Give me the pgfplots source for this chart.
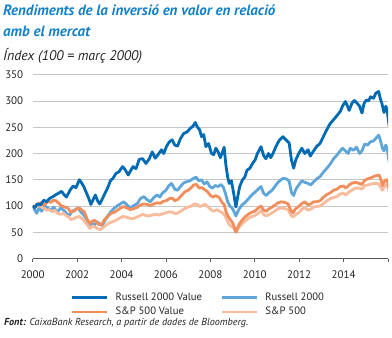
\documentclass[border=0pt]{standalone}
\usepackage{pgfplots}
\pgfplotsset{compat=1.18}
\usepackage{pgfplotstable}
\usepackage{fontspec}
\setmainfont{PT Sans}
\definecolor{rvblue}{RGB}{0,106,180}
\definecolor{rlblue}{RGB}{94,166,218}
\definecolor{svorange}{RGB}{242,142,92}
\definecolor{sporange}{RGB}{248,187,156}
\definecolor{titleblue}{RGB}{20,128,200}
\definecolor{txt}{RGB}{35,35,35}

\pgfplotstableread{
x y
2000.00 100
2000.10 97
2000.20 104
2000.35 102
2000.50 111
2000.62 108
2000.78 115
2000.92 118
2001.02 121
2001.15 124
2001.30 128
2001.42 121
2001.52 117
2001.68 130
2001.82 138
2001.95 135
2002.10 150
2002.20 144
2002.30 137
2002.42 125
2002.52 115
2002.62 103
2002.72 112
2002.82 121
2002.92 110
2003.02 104
2003.12 112
2003.25 124
2003.38 135
2003.50 148
2003.62 153
2003.75 162
2003.88 165
2004.05 175
2004.15 170
2004.30 159
2004.42 168
2004.52 175
2004.65 171
2004.80 189
2004.95 190
2005.10 181
2005.25 190
2005.38 203
2005.52 191
2005.65 198
2005.80 207
2005.90 200
2006.02 213
2006.15 222
2006.28 226
2006.40 216
2006.52 214
2006.65 228
2006.80 238
2006.95 241
2007.10 248
2007.22 252
2007.32 259
2007.42 250
2007.52 245
2007.60 232
2007.70 236
2007.80 213
2007.92 219
2008.05 200
2008.15 198
2008.25 210
2008.35 203
2008.45 192
2008.55 203
2008.62 212
2008.70 178
2008.78 155
2008.85 143
2008.95 148
2009.05 124
2009.15 98
2009.22 115
2009.32 137
2009.45 150
2009.55 155
2009.65 168
2009.78 172
2009.90 181
2010.02 188
2010.12 200
2010.28 213
2010.40 196
2010.50 190
2010.62 200
2010.72 192
2010.82 200
2010.95 213
2011.10 225
2011.27 232
2011.40 226
2011.55 220
2011.65 188
2011.75 172
2011.85 188
2011.98 200
2012.12 210
2012.25 200
2012.40 207
2012.50 195
2012.65 205
2012.80 214
2012.94 219
2013.10 233
2013.24 245
2013.38 256
2013.54 264
2013.70 272
2013.85 280
2013.95 290
2014.08 299
2014.18 290
2014.25 282
2014.38 296
2014.48 301
2014.60 296
2014.72 290
2014.83 277
2014.92 295
2015.02 302
2015.12 300
2015.22 308
2015.35 305
2015.45 315
2015.58 318
2015.65 305
2015.72 296
2015.82 278
2015.90 290
2015.96 283
2016.02 262
2016.06 250
}\rvtable

\pgfplotstableread{
x y
2000.00 100
2000.08 93
2000.18 86
2000.28 96
2000.40 90
2000.55 100
2000.68 96
2000.82 92
2000.95 98
2001.10 88
2001.25 96
2001.40 92
2001.52 86
2001.65 82
2001.78 90
2001.92 93
2002.05 96
2002.18 88
2002.30 83
2002.42 75
2002.55 63
2002.65 68
2002.78 64
2002.90 70
2003.02 66
2003.12 63
2003.25 72
2003.38 81
2003.50 88
2003.65 95
2003.80 100
2003.95 104
2004.10 108
2004.25 102
2004.40 96
2004.55 101
2004.70 104
2004.85 114
2005.00 118
2005.15 112
2005.30 108
2005.45 116
2005.60 121
2005.72 117
2005.85 125
2006.00 130
2006.12 138
2006.25 143
2006.40 132
2006.52 130
2006.65 137
2006.80 144
2006.92 146
2007.08 148
2007.22 152
2007.35 155
2007.48 148
2007.60 150
2007.72 142
2007.85 146
2007.98 137
2008.10 134
2008.22 139
2008.35 137
2008.48 141
2008.58 136
2008.68 124
2008.78 108
2008.88 100
2008.98 96
2009.08 88
2009.15 81
2009.22 88
2009.32 96
2009.45 103
2009.55 106
2009.68 112
2009.80 118
2009.92 123
2010.05 128
2010.18 133
2010.28 137
2010.40 124
2010.52 120
2010.65 126
2010.78 130
2010.92 138
2011.05 145
2011.18 150
2011.30 153
2011.45 151
2011.55 147
2011.65 126
2011.75 120
2011.85 132
2011.98 140
2012.12 148
2012.25 145
2012.40 143
2012.52 140
2012.65 146
2012.80 152
2012.94 156
2013.10 165
2013.25 172
2013.40 180
2013.55 190
2013.70 197
2013.85 205
2013.95 210
2014.08 205
2014.20 200
2014.30 210
2014.45 206
2014.58 212
2014.72 200
2014.83 205
2014.95 218
2015.08 216
2015.20 222
2015.35 224
2015.48 230
2015.58 235
2015.65 226
2015.75 210
2015.82 205
2015.90 216
2015.97 208
2016.02 192
2016.06 183
}\rltable

\pgfplotstableread{
x y
2000.00 100
2000.10 97
2000.20 103
2000.33 106
2000.45 102
2000.58 104
2000.70 109
2000.82 107
2000.92 111
2001.05 110
2001.18 105
2001.30 100
2001.45 98
2001.58 96
2001.72 88
2001.85 90
2001.98 95
2002.10 96
2002.22 92
2002.32 89
2002.45 75
2002.55 67
2002.65 70
2002.78 73
2002.90 68
2003.00 64
2003.12 66
2003.25 75
2003.38 80
2003.52 86
2003.68 88
2003.82 92
2003.95 96
2004.10 99
2004.25 96
2004.40 93
2004.55 95
2004.70 97
2004.85 102
2005.00 104
2005.15 103
2005.30 101
2005.45 104
2005.60 106
2005.75 105
2005.88 109
2006.02 110
2006.15 114
2006.28 115
2006.40 110
2006.55 113
2006.70 120
2006.85 127
2007.00 130
2007.12 134
2007.25 140
2007.38 141
2007.50 134
2007.62 135
2007.75 131
2007.88 127
2008.00 120
2008.12 117
2008.25 120
2008.40 116
2008.52 107
2008.62 103
2008.70 90
2008.80 80
2008.90 74
2009.00 68
2009.08 60
2009.15 50
2009.22 58
2009.32 67
2009.45 74
2009.58 80
2009.70 84
2009.85 88
2010.00 90
2010.12 95
2010.28 100
2010.40 92
2010.52 90
2010.65 95
2010.78 98
2010.92 102
2011.05 106
2011.20 108
2011.35 107
2011.50 104
2011.62 92
2011.72 87
2011.82 94
2011.95 98
2012.10 104
2012.25 108
2012.40 102
2012.52 104
2012.65 108
2012.80 108
2012.94 110
2013.10 117
2013.25 122
2013.40 125
2013.55 130
2013.70 132
2013.85 137
2014.00 138
2014.10 134
2014.25 140
2014.40 144
2014.55 145
2014.70 143
2014.82 141
2014.95 149
2015.10 152
2015.25 154
2015.40 157
2015.50 158
2015.60 159
2015.68 150
2015.75 139
2015.85 148
2015.95 150
2016.02 140
2016.06 133
}\svtable

\pgfplotstableread{
x y
2000.00 100
2000.12 98
2000.22 102
2000.35 99
2000.50 96
2000.62 92
2000.75 93
2000.88 89
2001.00 92
2001.12 86
2001.25 84
2001.38 86
2001.50 82
2001.62 79
2001.72 74
2001.85 76
2001.98 79
2002.10 80
2002.22 76
2002.35 70
2002.48 63
2002.58 57
2002.68 62
2002.80 60
2002.92 57
2003.02 55
2003.15 58
2003.28 63
2003.42 67
2003.58 70
2003.72 72
2003.88 76
2004.05 80
2004.20 79
2004.35 77
2004.50 76
2004.65 78
2004.80 81
2004.95 84
2005.10 82
2005.25 81
2005.40 83
2005.55 84
2005.70 83
2005.85 85
2006.00 87
2006.15 89
2006.30 88
2006.42 85
2006.55 87
2006.70 91
2006.85 95
2007.00 98
2007.15 100
2007.28 104
2007.40 103
2007.52 99
2007.65 101
2007.78 103
2007.90 98
2008.02 93
2008.15 90
2008.30 93
2008.45 89
2008.58 86
2008.68 80
2008.78 70
2008.88 63
2009.00 60
2009.10 54
2009.17 51
2009.25 57
2009.35 63
2009.50 69
2009.62 73
2009.75 78
2009.88 80
2010.02 82
2010.15 86
2010.28 91
2010.40 84
2010.52 81
2010.65 84
2010.78 87
2010.92 91
2011.05 95
2011.20 96
2011.35 95
2011.50 93
2011.62 83
2011.72 79
2011.85 84
2011.98 87
2012.12 94
2012.25 97
2012.40 92
2012.52 94
2012.65 98
2012.80 99
2012.94 100
2013.10 105
2013.25 110
2013.40 114
2013.55 116
2013.70 118
2013.85 123
2014.00 124
2014.10 121
2014.25 127
2014.40 131
2014.55 134
2014.70 134
2014.82 132
2014.95 139
2015.10 140
2015.25 142
2015.40 143
2015.55 143
2015.65 137
2015.75 130
2015.85 138
2015.95 140
2016.02 133
2016.06 127
}\sptable

\begin{document}
\begin{tikzpicture}[x=1bp,y=1bp]
\useasboundingbox (0,0) rectangle (392,-338);
\node[anchor=base west, inner sep=0pt, text=titleblue, font={\fontsize{15}{16}\selectfont\bfseries\itshape}] at (3,-15.3) {Rendiments de la inversió en valor en relació};
\node[anchor=base west, inner sep=0pt, text=titleblue, font={\fontsize{15}{16}\selectfont\bfseries\itshape}] at (3,-36) {amb el mercat};
\node[anchor=base west, inner sep=0pt, text=txt, font={\fontsize{14}{15}\selectfont\itshape}] at (3,-60.5) {Índex (100 = març 2000)};
\node[anchor=base west, inner sep=0pt, text=txt, font={\fontsize{10.2}{11}\selectfont\itshape}] at (4,-325.5) {\textbf{Font:} CaixaBank Research, a partir de dades de Bloomberg.};
\begin{axis}[
  at={(32.7bp,-258.5bp)}, anchor=south west,
  scale only axis, width=355.3bp, height=183.8bp,
  xmin=2000, xmax=2016, ymin=0, ymax=350,
  xtick={2000,2002,2004,2006,2008,2010,2012,2014,2016},
  xticklabels={2000,2002,2004,2006,2008,2010,2012,2014,},
  ytick={0,50,100,150,200,250,300,350},
  axis x line*=bottom, axis y line*=left,
  y axis line style={draw=none},
  x axis line style={draw=black!65, line width=0.8bp},
  ytick style={draw=none},
  xtick style={draw=black!65, line width=0.8bp},
  tick align=outside, major tick length=3bp,
  ymajorgrids, grid style={draw=black!22, line width=0.8bp},
  /pgf/number format/assume math mode=true,
  /pgf/number format/1000 sep={},
  ticklabel style={font={\fontsize{11}{12}\selectfont}, text=txt},
  yticklabel style={xshift=-3bp},
  xticklabel style={yshift=-6bp},
  legend columns=2,
  legend style={at={(0.107,-0.177)}, anchor=north west, draw=none, fill=none, inner sep=0pt, outer sep=0pt,
     font={\fontsize{10.7}{12}\selectfont}, text=txt, row sep=0bp,
     nodes={inner sep=0pt, text height=9bp, text depth=5.6bp}},
  legend cell align=left,
  legend image code/.code={\draw[#1, line width=2.8bp] (0bp,1bp) -- (35bp,1bp);},
  every axis plot/.append style={line width=2.8bp, line join=round},
]
\addplot[rlblue, forget plot] table {\rltable};
\addplot[sporange, forget plot] table {\sptable};
\addplot[svorange, forget plot] table {\svtable};
\addplot[rvblue, forget plot] table {\rvtable};
\addlegendimage{rvblue}
\addlegendentry{\makebox[112bp][l]{\hspace{7bp}Russell 2000 Value}}
\addlegendimage{rlblue}
\addlegendentry{\makebox[80bp][l]{\hspace{7bp}Russell 2000}}
\addlegendimage{svorange}
\addlegendentry{\makebox[112bp][l]{\hspace{7bp}S\&P 500 Value}}
\addlegendimage{sporange}
\addlegendentry{\makebox[80bp][l]{\hspace{7bp}S\&P 500}}
\end{axis}
\end{tikzpicture}
\end{document}
